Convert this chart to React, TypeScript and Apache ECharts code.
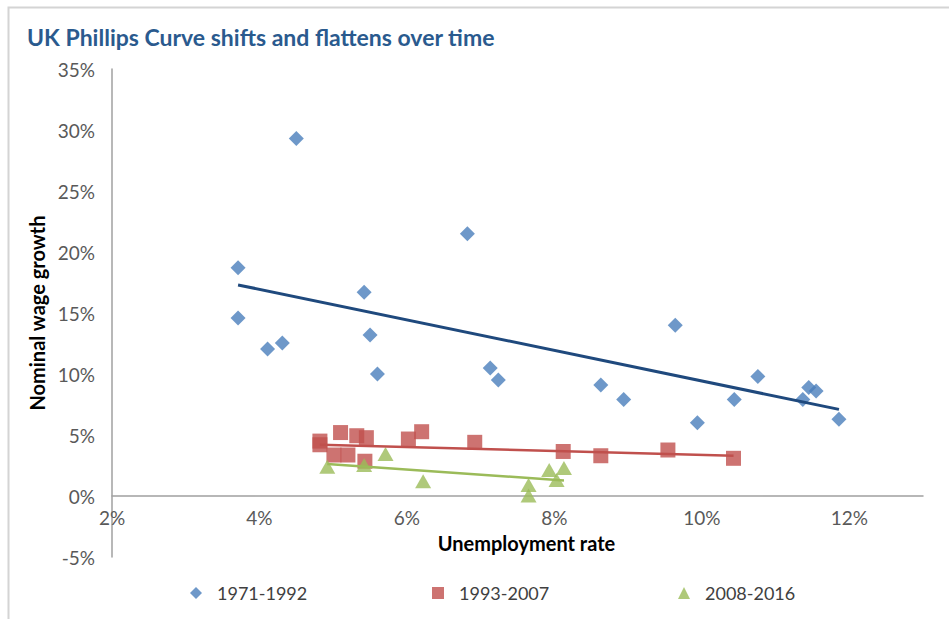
import React, { useEffect, useRef } from "react";
import * as echarts from "echarts";

// Series names
const seriesNames = ["1971-1992", "1993-2007", "2008-2016"];

// 1971-1992: [unemployment %, wage growth %]
const unemp1971 = [3.71, 3.71, 4.11, 4.31, 4.5, 5.42, 5.5, 5.6, 6.82, 7.13, 7.24, 8.63, 8.94, 9.64, 9.94, 10.44, 10.76, 11.37, 11.45, 11.55, 11.86];
const wage1971 = [18.7, 14.6, 12.05, 12.55, 29.3, 16.7, 13.2, 10.0, 21.5, 10.5, 9.5, 9.1, 7.9, 14.0, 6.0, 7.9, 9.8, 7.9, 8.9, 8.6, 6.3];

// 1993-2007
const unemp1993 = [4.82, 4.82, 5.1, 5.32, 5.45, 6.02, 6.2, 6.92, 5.01, 5.2, 5.43, 8.12, 8.63, 9.54, 10.43];
const wage1993 = [4.5, 4.2, 5.2, 4.94, 4.78, 4.67, 5.27, 4.4, 3.36, 3.36, 2.85, 3.65, 3.3, 3.77, 3.09];

// 2008-2016
const unemp2008 = [4.92, 5.42, 5.71, 6.22, 7.65, 7.65, 7.93, 8.03, 8.13];
const wage2008 = [2.4, 2.54, 3.45, 1.2, 0.9, 0.05, 2.13, 1.31, 2.3];

// Linear trend line end points
const trend1971X = [3.71, 11.86];
const trend1971Y = [17.3, 7.1];
const trend1993X = [4.82, 10.43];
const trend1993Y = [4.2, 3.3];
const trend2008X = [4.92, 8.13];
const trend2008Y = [2.62, 1.28];

// Axis settings
const xMin = 2;
const xMax = 13;
const xStep = 2;
const yMin = -5;
const yMax = 35;
const yStep = 5;

const colors = ["#4A7EBB", "#C0504D", "#9BBB59"];
const trendColors = ["#1F497D", "#C0504D", "#9BBB59"];
const FONT = "Lato";

function zip(xs: number[], ys: number[]) {
  return xs.map((x, i) => [x, ys[i]]);
}

export default function App() {
  const ref = useRef<HTMLDivElement>(null);
  useEffect(() => {
    if (!ref.current) return;
    const chart = echarts.init(ref.current, undefined, { renderer: "svg" });
    const symbols = ["diamond", "rect", "triangle"];
    const symbolSizes = [15, 15, [16, 14]];
    const pts = [zip(unemp1971, wage1971), zip(unemp1993, wage1993), zip(unemp2008, wage2008)];
    const trends = [zip(trend1971X, trend1971Y), zip(trend1993X, trend1993Y), zip(trend2008X, trend2008Y)];
    const legendLefts = [185, 427, 673];
    const gridTop = 69;
    const gridBottom = 62;
    const plotH = 619 - gridTop - gridBottom;
    // shift x axis up to the y = 0 line (labels and name follow it)
    const zeroOffset = -plotH * (0 - yMin) / (yMax - yMin);
    chart.setOption({
      animation: false,
      backgroundColor: "#ffffff",
      title: {
        text: "UK Phillips Curve shifts and flattens over time",
        left: 22,
        top: 20,
        textStyle: { fontFamily: FONT, fontSize: 23, fontWeight: "bold", color: "#2A5A8E" },
      },
      graphic: [
        {
          type: "rect",
          shape: { x: 8.5, y: 7.5, width: 1000, height: 1000 },
          style: { fill: "none", stroke: "#D4D4D4", lineWidth: 2 },
          silent: true,
        },
      ],
      legend: seriesNames.map((n, i) => ({
        data: [n],
        left: legendLefts[i],
        top: 579,
        itemWidth: 12,
        itemHeight: 12,
        textStyle: { fontFamily: FONT, fontSize: 18, color: "#404040", padding: [0, 0, 0, 10] },
      })),
      grid: { left: 112, top: gridTop, right: 26, bottom: gridBottom, containLabel: false },
      xAxis: {
        type: "value",
        min: xMin,
        max: xMax,
        interval: xStep,
        offset: zeroOffset,
        name: "Unemployment rate",
        nameLocation: "middle",
        nameGap: 37,
        nameTextStyle: { fontFamily: FONT, fontSize: 20, fontWeight: "bold", color: "#000", padding: [0, 0, 0, 18] },
        axisLine: { onZero: false, lineStyle: { color: "#A0A0A0", width: 1.5 } },
        axisTick: { show: false },
        splitLine: { show: false },
        axisLabel: {
          fontFamily: FONT,
          fontSize: 19,
          color: "#595959",
          margin: 12,
          formatter: (v: number) => ((v - xMin) % xStep === 0 ? v + "%" : ""),
        },
      },
      yAxis: {
        type: "value",
        min: yMin,
        max: yMax,
        interval: yStep,
        name: "Nominal wage growth",
        nameLocation: "middle",
        nameGap: 64,
        nameTextStyle: { fontFamily: FONT, fontSize: 20, fontWeight: "bold", color: "#000" },
        axisLine: { show: true, onZero: false, lineStyle: { color: "#A0A0A0", width: 1.5 } },
        axisTick: { show: false },
        splitLine: { show: false },
        axisLabel: { fontFamily: FONT, fontSize: 19, color: "#595959", margin: 17, formatter: "{value}%" },
      },
      series: [
        ...seriesNames.map((n, i) => ({
          name: n,
          type: "scatter",
          symbol: symbols[i],
          symbolSize: symbolSizes[i],
          itemStyle: { color: colors[i] },
          data: pts[i],
          z: 3,
        })),
        ...seriesNames.map((n, i) => ({
          name: n + " trend",
          type: "line",
          data: trends[i],
          symbol: "none",
          lineStyle: { color: trendColors[i], width: i === 0 ? 3 : 2.5 },
          z: 4,
        })),
      ],
    });
    return () => chart.dispose();
  }, []);
  return <div ref={ref} style={{ position: "fixed", left: 0, top: 0, width: 949, height: 619 }} />;
}
